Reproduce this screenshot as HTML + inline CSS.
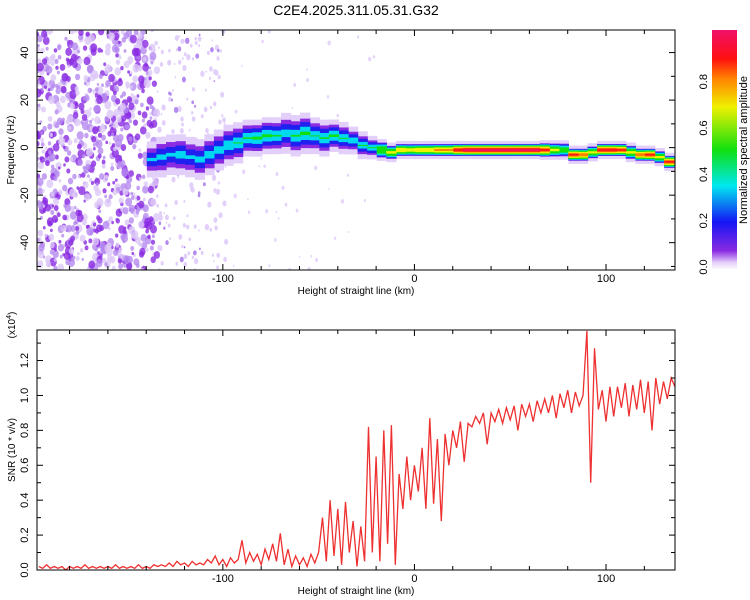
<!DOCTYPE html>
<html><head><meta charset="utf-8">
<style>
html,body{margin:0;padding:0;background:#fff;}
svg{display:block;font-family:"Liberation Sans",sans-serif;}
</style></head>
<body>
<svg id="chart" width="750" height="600" viewBox="0 0 750 600" xmlns="http://www.w3.org/2000/svg">
<defs>
<linearGradient id="cbar" x1="0" y1="1" x2="0" y2="0">
<stop offset="0" stop-color="#ffffff"/>
<stop offset="0.03" stop-color="#e6d2fb"/>
<stop offset="0.08" stop-color="#8a2be2"/>
<stop offset="0.2" stop-color="#1515f5"/>
<stop offset="0.35" stop-color="#00e8f0"/>
<stop offset="0.5" stop-color="#10e010"/>
<stop offset="0.68" stop-color="#f0f000"/>
<stop offset="0.8" stop-color="#ff8000"/>
<stop offset="0.88" stop-color="#ff1010"/>
<stop offset="1" stop-color="#f0106a"/>
</linearGradient>
<clipPath id="topclip"><rect x="37" y="30" width="638" height="240"/></clipPath>
<clipPath id="botclip"><rect x="37" y="330" width="638" height="240"/></clipPath>
</defs>
<text x="356" y="15" font-size="14" text-anchor="middle">C2E4.2025.311.05.31.G32</text>
<g id="topPlot"></g>
<g id="botPlot"></g>
<g id="cbarG"></g>
</svg>
<script>
// ---- data ----
const ridgeKm   = [-137,-132,-127,-122,-117,-112,-107,-102,-97,-92,-87,-82,-77,-72,-67,-62,-57,-52,-47,-42,-37,-32,-27,-22,-17,-12,-7,-2,3,8,13,18,23,28,33,38,43,48,53,58,63,68,73,78,83,88,93,98,103,108,113,118,123,128,133];
const ridgeFreq = [-5,-4,-3,-3,-4,-5,-3,-1,1,2,4,4,5,5,6,5,6,5,4,5,4,3,1,0,-1,-2,-1,-1,-1,-1,-1,-1,-1,-1,-1,-1,-1,-1,-1,-1,-1,-1,-1,-1,-3,-3,-2,-1,-1,-1,-2,-3,-3,-4,-6];
const ridgeAmp  = [0.3,0.32,0.3,0.35,0.3,0.33,0.35,0.35,0.38,0.4,0.42,0.45,0.45,0.42,0.35,0.42,0.45,0.4,0.42,0.45,0.4,0.38,0.4,0.42,0.55,0.6,0.7,0.65,0.7,0.7,0.75,0.75,0.9,0.95,0.95,0.95,0.95,0.95,0.95,0.95,0.95,0.85,0.6,0.5,0.85,0.8,0.6,0.9,0.9,0.85,0.6,0.8,0.85,0.6,0.85];
const ridgeWidth= [7,8,8,8,8,8,8,8,8,8,7,7,7,7,8,8,8,7,7,6,6,5,5,4,3.5,3,2.7,2.7,2.7,2.7,2.7,2.7,2.7,2.7,2.7,2.7,2.7,2.7,2.7,2.7,2.7,3,3,3,2.7,2.7,2.7,2.7,2.7,2.7,3,2.7,2.7,2.7,2.7];
const freqTicks = [-40,-20,0,20,40];
const kmTicks = [-100,0,100];
const snrTicks = [0,0.2,0.4,0.6,0.8,1.0,1.2];
const snrTickLabels = ["0.0","0.2","0.4","0.6","0.8","1.0","1.2"];
const cbarTicks = [0,0.2,0.4,0.6,0.8];
const cbarTickLabels = ["0.0","0.2","0.4","0.6","0.8"];
const snrStartKm = -196;
const snrStepKm = 2;
const snrValues = [0.02,0.01,0.03,0.01,0.02,0.01,0.02,0.00,0.02,0.01,0.02,0.01,0.03,0.01,0.02,0.01,0.02,0.01,0.02,0.01,0.03,0.01,0.02,0.01,0.02,0.01,0.03,0.01,0.02,0.01,0.03,0.02,0.03,
0.02,0.04,0.02,0.05,0.03,0.04,0.02,0.05,0.03,0.04,
0.03,0.06,0.04,0.08,0.03,0.06,0.02,0.07,0.04,0.06,
0.17,0.04,0.10,0.05,0.09,0.03,0.12,0.06,0.15,0.05,
0.21,0.03,0.12,0.02,0.08,0.03,0.07,0.02,0.09,0.04,
0.10,0.30,0.05,0.40,0.08,0.35,0.03,0.39,0.10,0.28,
0.02,0.25,0.05,0.82,0.10,0.65,0.05,0.80,0.15,0.83,
0.03,0.55,0.35,0.65,0.40,0.60,0.45,0.70,0.35,0.87,
0.38,0.75,0.28,0.78,0.60,0.80,0.70,0.85,0.62,0.84,
0.82,0.88,0.84,0.90,0.72,0.90,0.85,0.92,0.84,0.93,
0.86,0.94,0.80,0.95,0.88,0.95,0.85,0.97,0.90,0.98,
0.90,1.00,0.87,1.01,0.93,1.03,0.90,1.02,0.94,1.00,
1.37,0.50,1.27,0.92,1.03,0.85,1.05,0.88,1.05,0.93,
1.07,0.88,1.06,0.92,1.09,0.90,1.08,0.80,1.10,0.95,
1.08,0.98,1.10,1.05];

// ---- scales ----
const NS="http://www.w3.org/2000/svg";
const X0=37,X1=675,KM0=-197,KM1=136;
const xS=k=>X0+(k-KM0)*(X1-X0)/(KM1-KM0);
const T0=30,T1=270,F0=-51.5,F1=49.5;
const yF=f=>T1-(f-F0)*(T1-T0)/(F1-F0);
const B0=330,B1=570,S1=1.375;
const yS=v=>B1-v*(B1-B0)/S1;
function mk(tag,attrs,parent){const e=document.createElementNS(NS,tag);for(const k in attrs)e.setAttribute(k,attrs[k]);parent.appendChild(e);return e;}

const topG=document.getElementById('topPlot');
const botG=document.getElementById('botPlot');
const cbG=document.getElementById('cbarG');

// ---- background speckle texture (decorative) ----
const tex=mk('g',{'clip-path':'url(#topclip)'},topG);


let seed=12345;
function rnd(){seed=(seed*1103515245+12345)%2147483648;return seed/2147483648;}
for(let i=0;i<900;i++){
  const px=37+rnd()*120, py=30+rnd()*240, r=1.5+rnd()*3;
  const c=rnd()<0.35?'#8a2be2':(rnd()<0.5?'#b58af0':'#ddc8f8');
  mk('ellipse',{cx:px,cy:py,rx:r*0.8,ry:r,fill:c,'fill-opacity':0.8},tex);
}
for(let i=0;i<180;i++){
  const px=157+rnd()*70, py=30+rnd()*240, r=1+rnd()*2.2;
  mk('ellipse',{cx:px,cy:py,rx:r*0.7,ry:r,fill:rnd()<0.2?'#b58af0':'#e2d0fa'},tex);
}
for(let i=0;i<50;i++){
  const px=230+rnd()*150, py=30+rnd()*240, r=1+rnd()*1.5;
  mk('ellipse',{cx:px,cy:py,rx:r*0.7,ry:r,fill:'#e6d6fb'},tex);
}

// ---- ridge ----
const levels=[0.02,0.08,0.15,0.25,0.38,0.55,0.7,0.8,0.9];
const lcol=['#e2d0fa','#8a2be2','#2020f0','#00d8f0','#10e010','#f0f000','#ff8000','#ff1818','#f0106a'];
const rg=mk('g',{'clip-path':'url(#topclip)'},topG);


for(let li=0;li<levels.length;li++){
  for(let i=0;i<ridgeKm.length;i++){
    const a=ridgeAmp[i];
    if(a<=levels[li]) continue;
    const p=a<0.5?1.3:0.7;
    const hw=ridgeWidth[i]*Math.pow(1-levels[li]/a,p)+(li===0?1.2:0);
    const kL=i>0?(ridgeKm[i-1]+ridgeKm[i])/2:ridgeKm[i]-2.5;
    const kR=i<ridgeKm.length-1?(ridgeKm[i]+ridgeKm[i+1])/2:ridgeKm[i]+2.5;
    const x1=xS(kL), x2=xS(kR);
    const y1=yF(ridgeFreq[i]+hw), y2=yF(ridgeFreq[i]-hw);
    const r=mk('rect',{x:x1-0.3,y:y1,width:Math.max(1,x2-x1+0.6),height:Math.max(1,y2-y1),fill:lcol[li]},rg);
    
    
  }
}

// ---- axes helper ----
function frame(g,y0,y1,name){
  const f=mk('rect',{x:X0,y:y0,width:X1-X0,height:y1-y0,fill:'none',stroke:'#000','stroke-width':1},g);
  
  
  for(let k=-180;k<=136;k+=20){
    const x=xS(k), L=(k%100===0)?6:4;
    mk('line',{x1:x,y1:y1,x2:x,y2:y1-L,stroke:'#000'},g);
    mk('line',{x1:x,y1:y0,x2:x,y2:y0+L,stroke:'#000'},g);
  }
  kmTicks.forEach(k=>{
    const t=mk('text',{x:xS(k),y:y1+12,'font-size':11,'text-anchor':'middle'},g);
    t.textContent=String(k);
    
    
  });
  const xt=mk('text',{x:356,y:y1+24,'font-size':10,'text-anchor':'middle'},g);
  xt.textContent='Height of straight line (km)';
  
  
}
frame(topG,T0,T1,'spectrogram-frame');
for(let f=-50;f<=49;f+=10){
  const y=yF(f),L=(f%20===0)?6:4;
  mk('line',{x1:X0,y1:y,x2:X0+L,y2:y,stroke:'#000'},topG);
  mk('line',{x1:X1,y1:y,x2:X1-L,y2:y,stroke:'#000'},topG);
}
freqTicks.forEach(f=>{
  const t=mk('text',{transform:`translate(28,${yF(f)}) rotate(-90)`,'font-size':11,'text-anchor':'middle'},topG);
  t.textContent=String(f);
  
  
});
const yt=mk('text',{transform:'translate(14,150) rotate(-90)','font-size':10,'text-anchor':'middle'},topG);
yt.textContent='Frequency (Hz)';



// ---- SNR line ----
const pts=snrValues.map((v,i)=>xS(snrStartKm+i*snrStepKm).toFixed(1)+','+yS(v).toFixed(1)).join(' ');
const ln=mk('polyline',{points:pts,fill:'none',stroke:'#ee3030','stroke-width':1.3,'clip-path':'url(#botclip)'},botG);


frame(botG,B0,B1,'snr-frame');
for(let v=0;v<=1.35;v+=0.1){
  const y=yS(v),L=(Math.round(v*10)%2===0)?6:4;
  mk('line',{x1:X0,y1:y,x2:X0+L,y2:y,stroke:'#000'},botG);
  mk('line',{x1:X1,y1:y,x2:X1-L,y2:y,stroke:'#000'},botG);
}
snrTicks.forEach((v,i)=>{
  const t=mk('text',{transform:`translate(28,${yS(v)}) rotate(-90)`,'font-size':11,'text-anchor':'middle'},botG);
  t.textContent=snrTickLabels[i];
  
  
});
const yt2=mk('text',{transform:'translate(15,450) rotate(-90)','font-size':10,'text-anchor':'middle'},botG);
yt2.textContent='SNR (10 * v/v)';


const sc=mk('text',{transform:'translate(15,325) rotate(-90)','font-size':10,'text-anchor':'middle'},botG);
sc.innerHTML='(x10<tspan font-size="7" dy="-4">4</tspan><tspan dy="4">)</tspan>';



// ---- colorbar ----
const CB0=30,CB1=270;
const yC=v=>267-v*(267-81.7)/0.8;
const bar=mk('rect',{x:712,y:CB0,width:25,height:CB1-CB0,fill:'url(#cbar)'},cbG);


cbarTicks.forEach((v,i)=>{
  const t=mk('text',{transform:`translate(707,${yC(v)}) rotate(-90)`,'font-size':11,'text-anchor':'middle'},cbG);
  t.textContent=cbarTickLabels[i];
  
  
});
const ct=mk('text',{transform:'translate(747,150) rotate(-90)','font-size':11,'text-anchor':'middle'},cbG);
ct.textContent='Normalized spectral amplitude';


</script>
</body></html>
